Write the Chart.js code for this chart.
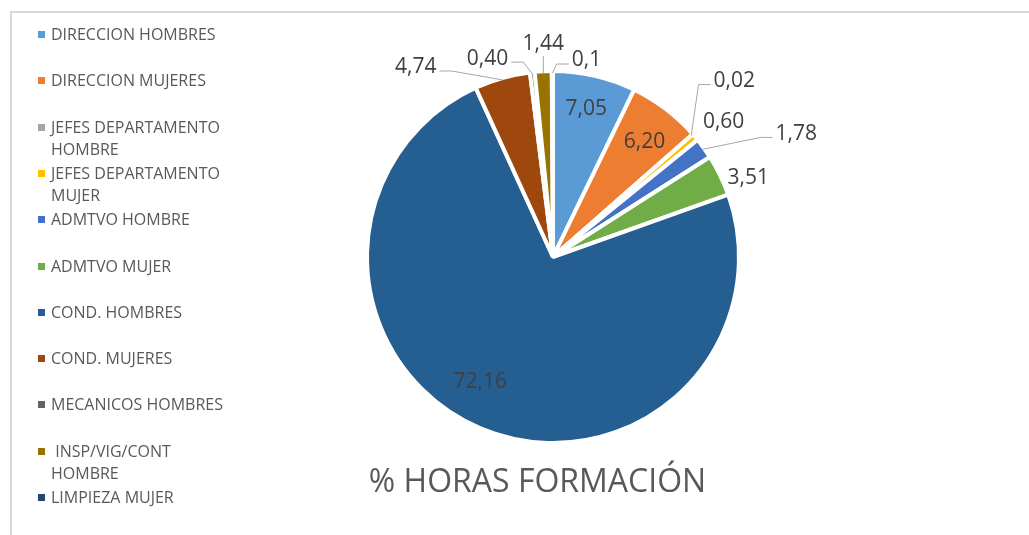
<!DOCTYPE html>
<html>
<head>
<meta charset="utf-8">
<script src="https://cdn.jsdelivr.net/npm/chart.js@4.4.1/dist/chart.umd.min.js"></script>
<style>
  html, body { margin: 0; padding: 0; background: #fff; }
  #wrap { position: relative; width: 1029px; height: 535px; overflow: hidden; font-family: "Open Sans", sans-serif; }
  #frame { position: absolute; left: 10px; top: 11px; width: 1100px; height: 600px; border: 2px solid #d9d9d9; box-sizing: border-box; }
  #chart { position: absolute; left: 0; top: 0; }
  #legend { position: absolute; left: 0; top: 0; }
  .item { position: absolute; left: 38px; font-size: 16px; line-height: 22px; color: #595959; white-space: pre; }
  .item .box { position: absolute; left: 0; top: 8px; width: 7px; height: 7px; }
  .item .txt { position: absolute; left: 13px; top: 0; }
  #title { position: absolute; left: 0; width: 1075px; text-align: center; top: 458px; font-size: 32px; color: #595959; }
</style>
</head>
<body>
<div id="wrap">
  <div id="frame"></div>
  <canvas id="chart" width="1029" height="535"></canvas>
  <div id="legend"></div>
  <div id="title">% HORAS FORMACIÓN</div>
</div>
<script>
// categorias y valores (% horas de formación)
const categories = [
  'DIRECCION HOMBRES',
  'DIRECCION MUJERES',
  ['JEFES DEPARTAMENTO', 'HOMBRE'],
  ['JEFES DEPARTAMENTO', 'MUJER'],
  'ADMTVO HOMBRE',
  'ADMTVO MUJER',
  'COND. HOMBRES',
  'COND. MUJERES',
  'MECANICOS HOMBRES',
  [' INSP/VIG/CONT', 'HOMBRE'],
  'LIMPIEZA MUJER'
];
const values = [7.05, 6.20, 0.02, 0.60, 1.78, 3.51, 72.16, 4.74, 0.40, 1.44, 0.1];
const valueDecimals = [2, 2, 2, 2, 2, 2, 2, 2, 2, 2, 1];

const colors = ['#5B9BD5', '#ED7D31', '#A5A5A5', '#FFC000', '#4472C4', '#70AD47',
                '#255E91', '#9E480E', '#636363', '#997300', '#264478'];

// posición de cada etiqueta respecto al borde exterior del sector
const labelPlacement = [
  { dx: -8,  dy: 30,  leader: 'none' },
  { dx: -20, dy: 30,  leader: 'none' },
  { dx: 43,  dy: -56, leader: 'elbow' },
  { dx: 30,  dy: -18, leader: 'none' },
  { dx: 94,  dy: -17, leader: 'elbow' },
  { dx: 30,  dy: 0,   leader: 'none' },
  { dx: -1,  dy: -46, leader: 'none' },
  { dx: -87, dy: -14, leader: 'elbow' },
  { dx: -45, dy: -17, leader: 'elbow' },
  { dx: 0,   dy: -31, leader: 'vertical' },
  { dx: 34,  dy: -14, leader: 'elbow' }
];

const BORDER = 4;

const valueLabels = {
  id: 'valueLabels',
  afterDatasetsDraw(chart) {
    const ctx = chart.ctx;
    const meta = chart.getDatasetMeta(0);
    const fs = 21;
    ctx.save();
    ctx.font = fs + 'px "Open Sans"';
    ctx.textAlign = 'center';
    ctx.textBaseline = 'alphabetic';
    meta.data.forEach(function (arc, i) {
      const p = arc.getProps(['x', 'y', 'startAngle', 'endAngle', 'outerRadius'], true);
      const mid = (p.startAngle + p.endAngle) / 2;
      const r = p.outerRadius - BORDER / 2;
      const ax = p.x + r * Math.cos(mid);
      const ay = p.y + r * Math.sin(mid);
      const pl = labelPlacement[i];
      const tx = ax + pl.dx, ty = ay + pl.dy;
      const txt = values[i].toFixed(valueDecimals[i]).replace('.', ',');
      const w = ctx.measureText(txt).width;

      ctx.strokeStyle = '#a6a6a6';
      ctx.lineWidth = 1;
      if (pl.leader === 'elbow') {
        const toRight = pl.dx > 0;
        const ex = toRight ? tx - w / 2 - 3 : tx + w / 2 + 3;
        const bx = toRight ? ex - 12 : ex + 12;
        const ey = ty + 5;
        ctx.beginPath();
        ctx.moveTo(ax, ay);
        ctx.lineTo(bx, ey);
        ctx.lineTo(ex, ey);
        ctx.stroke();
      } else if (pl.leader === 'vertical') {
        ctx.beginPath();
        ctx.moveTo(ax, ay);
        ctx.lineTo(tx, ty + 14);
        ctx.stroke();
      }
      ctx.fillStyle = '#404040';
      ctx.fillText(txt, tx, ty + fs * 0.357);
    });
    ctx.restore();
  }
};

const chart = new Chart(document.getElementById('chart').getContext('2d'), {
  type: 'pie',
  data: {
    labels: categories,
    datasets: [{
      data: values,
      backgroundColor: colors,
      borderColor: '#ffffff',
      borderWidth: BORDER,
      radius: 184 + BORDER / 2
    }]
  },
  options: {
    responsive: false,
    animation: false,
    events: [],
    layout: { padding: { left: 369, right: 292, top: 73, bottom: 94 } },
    plugins: {
      legend: { display: false },
      tooltip: { enabled: false },
      title: { display: false }
    }
  },
  plugins: [valueLabels]
});

// leyenda a la izquierda
const legend = document.getElementById('legend');
chart.data.labels.forEach(function (lab, i) {
  const item = document.createElement('div');
  item.className = 'item';
  item.style.top = (34 + 46.3 * i - 11) + 'px';
  const box = document.createElement('div');
  box.className = 'box';
  box.style.background = chart.data.datasets[0].backgroundColor[i];
  const txt = document.createElement('div');
  txt.className = 'txt';
  txt.textContent = Array.isArray(lab) ? lab.join('\n') : lab;
  item.appendChild(box);
  item.appendChild(txt);
  legend.appendChild(item);
});
</script>
</body>
</html>
